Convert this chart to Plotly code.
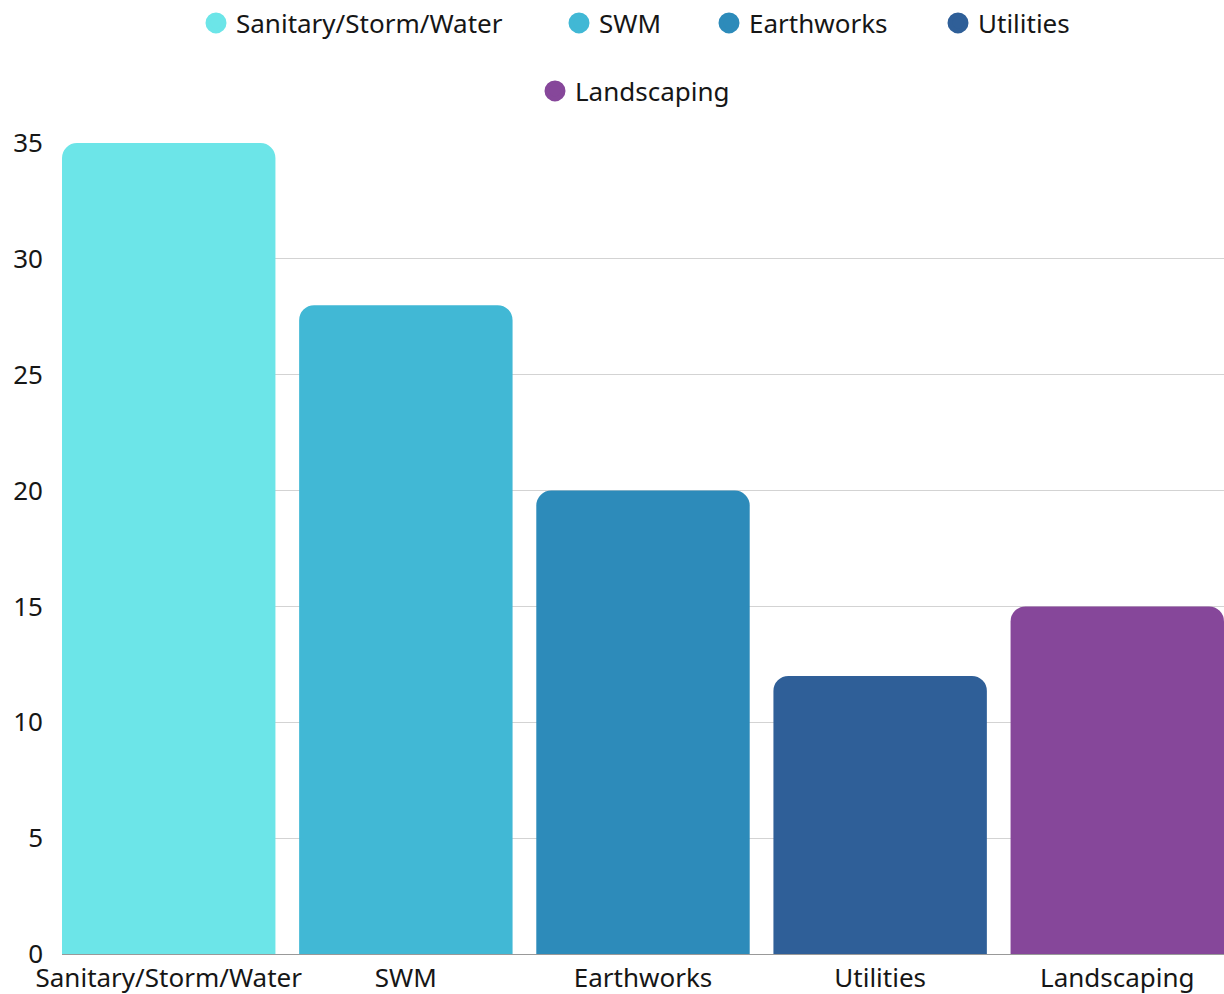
import plotly.graph_objects as go

categories = ["Sanitary/Storm/Water", "SWM", "Earthworks", "Utilities", "Landscaping"]
values = [35, 28, 20, 12, 15]
colors = ["#6CE5E8", "#41B8D5", "#2D8BBA", "#2F5F98", "#86479A"]
y_ticks = [0, 5, 10, 15, 20, 25, 30, 35]

FONT = "Noto Sans"
FS = 26

fig = go.Figure()
fig.add_trace(go.Bar(
    x=categories, y=values, marker=dict(color=colors, line=dict(width=0)),
    showlegend=False, hoverinfo="x+y",
))

# legend entries (circle symbols), one legend per entry for exact placement
legend_names = ["legend", "legend2", "legend3", "legend4", "legend5"]
for cat, col, lg in zip(categories, colors, legend_names):
    fig.add_trace(go.Scatter(
        x=[None], y=[None], mode="markers", name=cat, legend=lg,
        marker=dict(symbol="circle", size=16, color=col, line=dict(color=col, width=5)),
    ))

W, H = 1224, 994
ml, mr, mt, mb = 62, 0, 143, 40
pw, ph = W - ml - mr, H - mt - mb

def px_x(p):
    return (p - ml) / pw

def px_y(p):
    return (H - mb - p) / ph

row1 = [206, 569, 719, 948]
row2 = [545]
leg_common = dict(orientation="h", xanchor="left", yanchor="middle",
                  bgcolor="rgba(0,0,0,0)", borderwidth=0,
                  font=dict(family=FONT, size=FS, color="#161616"))
lay = {}
for lg, xp in zip(legend_names[:4], row1):
    lay[lg] = dict(x=px_x(xp - 10), y=px_y(23), **leg_common)
lay["legend5"] = dict(x=px_x(row2[0] - 10), y=px_y(91), **leg_common)

fig.update_layout(
    width=W, height=H,
    margin=dict(l=ml, r=mr, t=mt, b=mb, pad=0, autoexpand=False),
    paper_bgcolor="white", plot_bgcolor="white",
    font=dict(family=FONT, size=FS, color="#161616"),
    bargap=0.1,
    barcornerradius=15,
    xaxis=dict(range=[-0.45, 4.45], showgrid=False, showline=True, automargin=False,
               linecolor="#999999", linewidth=1, ticks="", tickfont=dict(size=FS),
               ticklabelstandoff=1),
    yaxis=dict(range=[0, 35], tickvals=y_ticks, showgrid=True, gridcolor="#D3D3D3",
               gridwidth=1, zeroline=False, showline=False, ticks="", automargin=False,
               ticklabelstandoff=18, tickfont=dict(size=FS)),
    **lay,
)

fig.write_html("out.html")
